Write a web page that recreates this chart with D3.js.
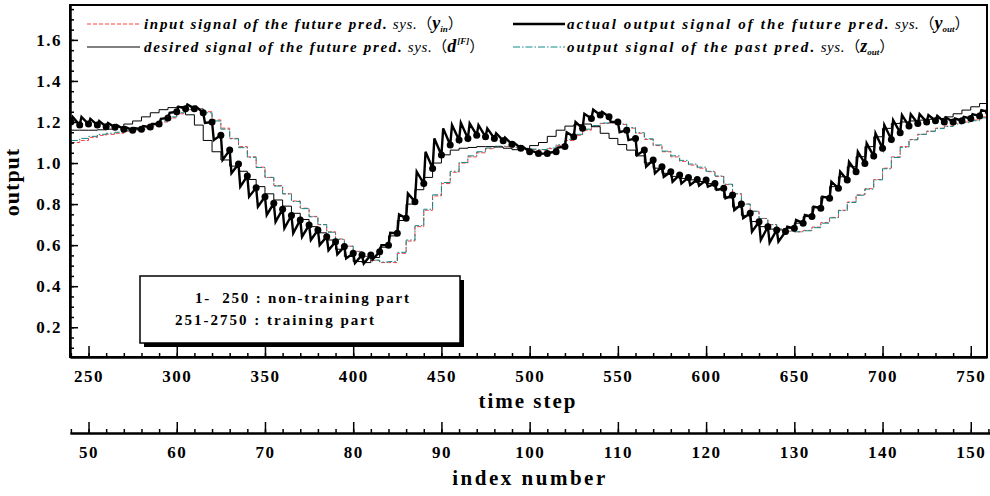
<!DOCTYPE html>
<html>
<head>
<meta charset="utf-8">
<script src="https://cdn.jsdelivr.net/npm/d3@7"></script>
<style>
body { margin: 0; background: #fff; }
svg text { font-family: "Liberation Serif", "Times New Roman", serif; fill: #000; }
</style>
</head>
<body>
<svg id="chart" width="990" height="496"></svg>
<script>
// index number k = 48 .. 152, one value per index (5 time steps each)
var firstIndex = 48;
var stepsPerIndex = 5;

var inputSignal = [
    1.10, 1.11, 1.125, 1.135, 1.14, 1.145, 1.155, 1.16, 1.165, 1.18,
    1.20, 1.22, 1.24, 1.26, 1.265, 1.25, 1.21, 1.17, 1.12, 1.08,
    1.03, 0.98, 0.93, 0.89, 0.85, 0.815, 0.78, 0.74, 0.70, 0.665,
    0.63, 0.595, 0.57, 0.545, 0.525, 0.515, 0.515, 0.56, 0.62, 0.69,
    0.77, 0.84, 0.90, 0.955, 1.00, 1.03, 1.05, 1.07, 1.08, 1.08,
    1.075, 1.07, 1.065, 1.063, 1.07, 1.085, 1.11, 1.135, 1.16, 1.18,
    1.193, 1.195, 1.188, 1.17, 1.145, 1.115, 1.085, 1.055, 1.03, 1.008,
    0.99, 0.975, 0.958, 0.935, 0.895, 0.85, 0.80, 0.765, 0.73, 0.70,
    0.68, 0.668, 0.665, 0.672, 0.688, 0.71, 0.735, 0.77, 0.81, 0.845,
    0.875, 0.92, 0.975, 1.03, 1.08, 1.115, 1.14, 1.155, 1.17, 1.18,
    1.193, 1.20, 1.21, 1.225, 1.235
];

var pastOutput = [
    1.11, 1.12, 1.13, 1.14, 1.145, 1.15, 1.158, 1.162, 1.17, 1.185,
    1.205, 1.225, 1.245, 1.262, 1.265, 1.245, 1.205, 1.165, 1.118, 1.075,
    1.028, 0.978, 0.93, 0.888, 0.85, 0.813, 0.778, 0.738, 0.70, 0.663,
    0.628, 0.595, 0.568, 0.545, 0.527, 0.518, 0.52, 0.565, 0.625, 0.695,
    0.775, 0.845, 0.905, 0.96, 1.003, 1.035, 1.055, 1.073, 1.082, 1.082,
    1.077, 1.072, 1.068, 1.066, 1.073, 1.09, 1.115, 1.14, 1.165, 1.183,
    1.195, 1.197, 1.19, 1.173, 1.148, 1.118, 1.088, 1.058, 1.035, 1.013,
    0.995, 0.98, 0.96, 0.937, 0.897, 0.85, 0.80, 0.765, 0.73, 0.70,
    0.68, 0.668, 0.665, 0.67, 0.685, 0.707, 0.733, 0.768, 0.808, 0.843,
    0.873, 0.918, 0.972, 1.027, 1.077, 1.113, 1.14, 1.155, 1.168, 1.178,
    1.19, 1.197, 1.206, 1.22, 1.23
];

var desiredSignal = [
    1.16, 1.16, 1.16, 1.162, 1.165, 1.175, 1.19, 1.205, 1.225, 1.245,
    1.26, 1.27, 1.275, 1.235, 1.185, 1.11, 1.055, 1.015, 0.985, 0.96,
    0.92, 0.885, 0.85, 0.82, 0.79, 0.755, 0.725, 0.69, 0.66, 0.625,
    0.58, 0.545, 0.52, 0.515, 0.54, 0.59, 0.645, 0.72, 0.80, 0.87,
    0.93, 1.00, 1.04, 1.063, 1.072, 1.076, 1.08, 1.08, 1.078, 1.072,
    1.065, 1.07, 1.085, 1.10, 1.13, 1.16, 1.18, 1.187, 1.19, 1.177,
    1.145, 1.12, 1.09, 1.063, 1.035, 1.00, 0.975, 0.95, 0.935, 0.925,
    0.918, 0.91, 0.90, 0.87, 0.83, 0.785, 0.745, 0.715, 0.69, 0.678,
    0.674, 0.682, 0.707, 0.739, 0.787, 0.836, 0.885, 0.933, 0.982, 1.031,
    1.08, 1.128, 1.169, 1.193, 1.20, 1.205, 1.209, 1.213, 1.217, 1.225,
    1.24, 1.258, 1.274, 1.29, 1.30
];

// actual output: value at each index (dots) and the value reached right after it
var actualOutput = [
    1.20, 1.185, 1.19, 1.185, 1.177, 1.174, 1.165, 1.16, 1.165, 1.175,
    1.19, 1.22, 1.25, 1.265, 1.265, 1.245, 1.20, 1.136, 1.063, 0.995,
    0.937, 0.88, 0.836, 0.804, 0.775, 0.745, 0.723, 0.698, 0.674, 0.641,
    0.617, 0.593, 0.56, 0.552, 0.552, 0.568, 0.60, 0.658, 0.731, 0.812,
    0.90, 0.974, 1.039, 1.088, 1.112, 1.12, 1.136, 1.128, 1.12, 1.109,
    1.091, 1.072, 1.055, 1.047, 1.047, 1.055, 1.08, 1.128, 1.169, 1.217,
    1.234, 1.225, 1.20, 1.16, 1.12, 1.063, 1.015, 0.982, 0.958, 0.942,
    0.93, 0.92, 0.917, 0.90, 0.877, 0.844, 0.80, 0.755, 0.714, 0.69,
    0.674, 0.666, 0.682, 0.707, 0.739, 0.78, 0.828, 0.877, 0.917, 0.958,
    0.998, 1.034, 1.072, 1.115, 1.148, 1.18, 1.193, 1.20, 1.206, 1.20,
    1.20, 1.206, 1.217, 1.229, 1.25
];

var actualJump = [
    1.225, 1.225, 1.215, 1.205, 1.195, 1.185, 1.175, 1.17, 1.18, 1.19,
    1.215, 1.245, 1.275, 1.285, 1.275, 1.195, 1.112, 1.015, 0.95, 0.885,
    0.836, 0.787, 0.747, 0.714, 0.682, 0.658, 0.641, 0.625, 0.60, 0.575,
    0.555, 0.535, 0.513, 0.51, 0.53, 0.60, 0.66, 0.75, 0.852, 0.958,
    1.055, 1.12, 1.169, 1.185, 1.196, 1.193, 1.185, 1.169, 1.145, 1.125,
    1.10, 1.08, 1.06, 1.045, 1.05, 1.075, 1.15, 1.20, 1.24, 1.26,
    1.25, 1.20, 1.15, 1.112, 1.039, 0.982, 0.95, 0.933, 0.909, 0.90,
    0.893, 0.89, 0.885, 0.869, 0.828, 0.771, 0.731, 0.666, 0.625, 0.612,
    0.617, 0.69, 0.723, 0.747, 0.787, 0.836, 0.909, 0.958, 1.006, 1.055,
    1.096, 1.145, 1.185, 1.209, 1.234, 1.238, 1.238, 1.234, 1.23, 1.222,
    1.217, 1.225, 1.238, 1.258, 1.29
];

var timeTicks = [250, 300, 350, 400, 450, 500, 550, 600, 650, 700, 750];
var indexTicks = [50, 60, 70, 80, 90, 100, 110, 120, 130, 140, 150];
var outputTicks = [0.2, 0.4, 0.6, 0.8, 1.0, 1.2, 1.4, 1.6];

var legendItems = [
    {label: "input signal of the future pred.", sym: "y", sub: "in", sup: null, col: 0, row: 0, key: "in"},
    {label: "actual output signal of the future pred.", sym: "y", sub: "out", sup: null, col: 1, row: 0, key: "act"},
    {label: "desired signal of the future pred.", sym: "d", sub: null, sup: "[F]", col: 0, row: 1, key: "des"},
    {label: "output signal of the past pred.", sym: "z", sub: "out", sup: null, col: 1, row: 1, key: "past"}
];

var noteLines = ["1-  250 : non-training part", "251-2750 : training part"];

var plot = {left: 70, right: 987, top: 5, bottom: 357};
var jumpSteps = 1;

var svg = d3.select("#chart");

var x = d3.scaleLinear().domain([239.5, 759.2]).range([plot.left, plot.right]);
var y = d3.scaleLinear().domain([0.055, 1.77]).range([plot.bottom, plot.top]);
var xi = d3.scaleLinear()
    .domain([x.invert(plot.left) / stepsPerIndex, x.invert(990) / stepsPerIndex])
    .range([plot.left, 990]);

function toSteps(arr) {
    return arr.map(function (v, i) {
        return {t: (firstIndex + i) * stepsPerIndex, v: v};
    });
}

var styles = {
    "in":   {stroke: "#ff3b3b", width: 1, dash: "4,2"},
    "past": {stroke: "#138a8a", width: 1, dash: "7,2,1.5,2"},
    "des":  {stroke: "#000", width: 1, dash: null},
    "act":  {stroke: "#000", width: 2.4, dash: null}
};

svg.append("clipPath").attr("id", "clip")
    .append("rect")
    .attr("x", plot.left).attr("y", plot.top)
    .attr("width", plot.right - plot.left).attr("height", plot.bottom - plot.top);

var g = svg.append("g").attr("clip-path", "url(#clip)");

var stair = d3.line()
    .curve(d3.curveStepAfter)
    .x(function (d) { return x(d.t); })
    .y(function (d) { return y(d.v); });

[["in", inputSignal], ["past", pastOutput], ["des", desiredSignal]].forEach(function (s) {
    var st = styles[s[0]];
    g.append("path")
        .datum(toSteps(s[1]))
        .attr("d", stair)
        .attr("fill", "none")
        .attr("stroke", st.stroke)
        .attr("stroke-width", st.width)
        .attr("stroke-dasharray", st.dash);
});

// sawtooth of the actual output: dot value, jump, then straight to next dot
var actualPts = [];
actualOutput.forEach(function (v, i) {
    var t = (firstIndex + i) * stepsPerIndex;
    actualPts.push({t: t, v: v});
    actualPts.push({t: t + jumpSteps, v: actualJump[i]});
});

g.append("path")
    .datum(actualPts)
    .attr("d", d3.line().x(function (d) { return x(d.t); }).y(function (d) { return y(d.v); }))
    .attr("fill", "none")
    .attr("stroke", "#000")
    .attr("stroke-width", styles.act.width)
    .attr("stroke-linejoin", "miter");

g.selectAll(".dot")
    .data(toSteps(actualOutput))
    .enter()
    .append("circle")
    .attr("class", "dot")
    .attr("cx", function (d) { return x(d.t); })
    .attr("cy", function (d) { return y(d.v); })
    .attr("r", 3.5)
    .attr("fill", "#000");

// frame
svg.append("rect")
    .attr("x", plot.left).attr("y", plot.top)
    .attr("width", plot.right - plot.left).attr("height", plot.bottom - plot.top)
    .attr("fill", "none").attr("stroke", "#000").attr("stroke-width", 2);

function styleAxis(sel, fontSize) {
    sel.selectAll("path").attr("stroke", "#000").attr("stroke-width", 2);
    sel.selectAll("line").attr("stroke", "#000").attr("stroke-width", 1.5);
    sel.selectAll("text")
        .attr("font-family", "Liberation Serif, serif")
        .attr("font-weight", "bold")
        .attr("font-size", fontSize)
        .attr("letter-spacing", 1.5);
}

// left axis
svg.append("g").attr("transform", "translate(" + plot.left + ",0)")
    .call(d3.axisLeft(y).tickValues(d3.range(0.1, 1.76, 0.05)).tickSize(-4).tickSizeOuter(0).tickFormat(""))
    .call(styleAxis, 16);
svg.append("g").attr("transform", "translate(" + plot.left + ",0)")
    .call(d3.axisLeft(y).tickValues(outputTicks).tickSize(-8).tickSizeOuter(0).tickPadding(8).tickFormat(d3.format(".1f")))
    .call(styleAxis, 17);

// time step axis
svg.append("g").attr("transform", "translate(0," + plot.bottom + ")")
    .call(d3.axisBottom(x).tickValues(d3.range(240, 760, 10)).tickSize(-4).tickSizeOuter(0).tickFormat(""))
    .call(styleAxis, 16);
svg.append("g").attr("transform", "translate(0," + plot.bottom + ")")
    .call(d3.axisBottom(x).tickValues(timeTicks).tickSize(-11).tickSizeOuter(0).tickPadding(13))
    .call(styleAxis, 17);

// index number axis
var indexY = 433;
svg.append("g").attr("transform", "translate(0," + indexY + ")")
    .call(d3.axisBottom(xi).tickValues(d3.range(48, 153, 2)).tickSize(-4).tickSizeOuter(0).tickFormat(""))
    .call(styleAxis, 16);
svg.append("g").attr("transform", "translate(0," + indexY + ")")
    .call(d3.axisBottom(xi).tickValues(indexTicks).tickSize(-11).tickSizeOuter(0).tickPadding(13))
    .call(styleAxis, 17);

// axis titles
svg.append("text").attr("x", 528).attr("y", 408)
    .attr("text-anchor", "middle").attr("font-size", 21).attr("font-weight", "bold")
    .attr("letter-spacing", 2).text("time step");
svg.append("text").attr("x", 530).attr("y", 485)
    .attr("text-anchor", "middle").attr("font-size", 21).attr("font-weight", "bold")
    .attr("letter-spacing", 2.5).text("index number");
svg.append("text").attr("transform", "translate(19,182) rotate(-90)")
    .attr("text-anchor", "middle").attr("font-size", 22).attr("font-weight", "bold")
    .attr("letter-spacing", 1).text("output");

// legend
var legendCols = [{x0: 87, x1: 140, tx: 144, ls: 1.7}, {x0: 513, x1: 565, tx: 567, ls: 2.1}];
var legendRows = [{ly: 24, ty: 29}, {ly: 47, ty: 52}];

legendItems.forEach(function (d) {
    var c = legendCols[d.col], r = legendRows[d.row], st = styles[d.key];
    svg.append("line")
        .attr("x1", c.x0).attr("x2", c.x1).attr("y1", r.ly).attr("y2", r.ly)
        .attr("stroke", st.stroke).attr("stroke-width", st.width)
        .attr("stroke-dasharray", st.dash);
    var t = svg.append("text").attr("x", c.tx).attr("y", r.ty).attr("font-size", 15);
    t.append("tspan").attr("font-style", "italic").attr("font-weight", "bold")
        .attr("letter-spacing", c.ls).text(d.label);
    t.append("tspan").attr("font-style", "italic").attr("letter-spacing", 0.6).text(" sys.");
    t.append("tspan").attr("font-family", "Noto Sans CJK SC").attr("font-size", 15).text("（");
    t.append("tspan").attr("font-style", "italic").attr("font-weight", "bold")
        .attr("font-size", 18).text(d.sym);
    if (d.sub) {
        t.append("tspan").attr("font-style", "italic").attr("font-weight", "bold")
            .attr("font-size", 9).attr("dy", 3).text(d.sub);
        t.append("tspan").attr("dy", -3).attr("font-family", "Noto Sans CJK SC").text("）");
    } else {
        t.append("tspan").attr("font-style", "italic").attr("font-weight", "bold")
            .attr("font-size", 9).attr("dy", -8).attr("dx", 1).text(d.sup);
        t.append("tspan").attr("dy", 8).attr("font-family", "Noto Sans CJK SC").text("）");
    }
});

// note box
var box = {x: 140, y: 276, w: 320, h: 67};
svg.append("rect").attr("x", box.x + 4).attr("y", box.y + 4)
    .attr("width", box.w).attr("height", box.h).attr("fill", "#000");
svg.append("rect").attr("x", box.x).attr("y", box.y)
    .attr("width", box.w).attr("height", box.h)
    .attr("fill", "#fff").attr("stroke", "#000").attr("stroke-width", 1.5);
svg.append("text").attr("x", 195).attr("y", 303)
    .attr("font-size", 15).attr("font-weight", "bold").attr("letter-spacing", 1.8)
    .attr("xml:space", "preserve").style("white-space", "pre").text(noteLines[0]);
svg.append("text").attr("x", 175).attr("y", 325)
    .attr("font-size", 15).attr("font-weight", "bold").attr("letter-spacing", 2)
    .text(noteLines[1]);
</script>
</body>
</html>
